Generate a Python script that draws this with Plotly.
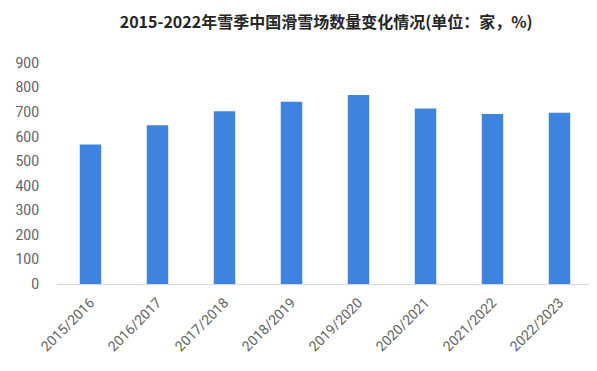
import plotly.graph_objects as go

categories = ["2015/2016", "2016/2017", "2017/2018", "2018/2019",
              "2019/2020", "2020/2021", "2021/2022", "2022/2023"]
resorts = [568, 646, 703, 742, 770, 715, 692, 697]
y_ticks = [0, 100, 200, 300, 400, 500, 600, 700, 800, 900]

fig = go.Figure(go.Bar(
    x=categories, y=resorts,
    marker=dict(color="#3f83e0", line=dict(width=0)),
))

fig.update_layout(
    width=597, height=371,
    margin=dict(l=49, r=12, t=55, b=95, autoexpand=False),
    paper_bgcolor="white", plot_bgcolor="white",
    bargap=0.68,
    showlegend=False,
    title=dict(
        text="<b>2015-2022年雪季中国滑雪场数量变化情况(单位：家，%)</b>",
        x=0.533, xanchor="center", y=0.962, yanchor="middle",
        font=dict(family="Noto Sans CJK SC", size=16, color="#262626"),
    ),
    font=dict(family="Roboto, Noto Sans CJK SC", color="#595959"),
)
fig.update_yaxes(
    range=[0, 900], tickvals=y_ticks, showgrid=False, zeroline=False,
    showline=False, ticks="", tickfont=dict(size=14, color="#636363"),
    ticklabelstandoff=17, automargin=False,
)
fig.update_xaxes(
    showline=True, linecolor="#d9d9d9", linewidth=1, ticks="",
    tickangle=-45, tickfont=dict(size=14, color="#636363"),
    showgrid=False, automargin=False, ticklabelstandoff=4,
)

fig.write_html("out.html")
